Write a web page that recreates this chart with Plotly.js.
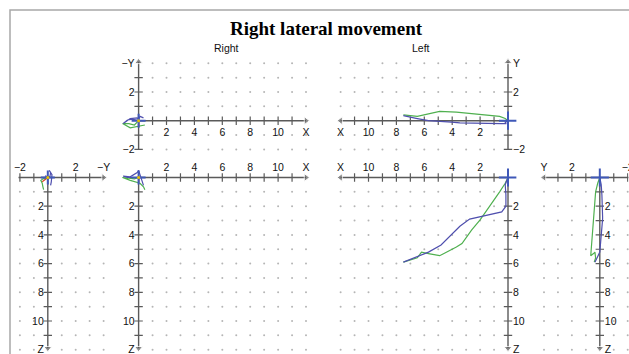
<!DOCTYPE html>
<html><head><meta charset="utf-8">
<script src="https://cdn.plot.ly/plotly-3.0.1.min.js"></script>
<style>html,body{margin:0;padding:0;background:#fff;}#chart{width:629px;height:354px;}</style>
</head><body><div id="chart"></div>
<script>
// ---- Right side movement (small): X, -Y, Z ----
const rGreenX  = [0, -0.3, -0.7, -1.15, -0.6, -0.25, 0.1, 0.35, 0.45];
const rGreenNY = [0, -0.3, -0.2, -0.2, -0.5, -0.45, -0.4, -0.35, -0.3];
const rGreenZ  = [0, 0.1, 0.05, 0.0, 0.2, 0.3, 0.4, 0.65, 0.85];
const rBlueX   = [0, -0.4, -0.8, -1.1, -0.6, -0.1, 0.0, 0.1, 0.25, 0.35];
const rBlueNY  = [0, 0.1, 0.05, -0.2, 0.15, 0.2, 0.1, 0.3, 0.25, 0.2];
const rBlueZ   = [0, 0.0, 0.0, -0.1, -0.05, -0.35, -0.5, -0.2, 0.3, 0.55];
const rRedX  = [0, 0.02];
const rRedNY = [0, -0.4];
const rRedZ  = [0, 0.3];

// ---- Left side movement: X, Y, Z ----
const lGreenX = [0, 0.2, 0.6, 1.1, 1.55, 2.0, 2.6, 3.3, 3.7, 4.9, 5.7, 6.2, 6.5, 7.5];
const lGreenY = [0, 0.15, 0.3, 0.35, 0.4, 0.45, 0.5, 0.55, 0.6, 0.65, 0.45, 0.35, 0.3, 0.4];
const lGreenZ = [0, 0.4, 1.0, 1.7, 2.4, 2.95, 3.65, 4.6, 4.85, 5.45, 5.3, 5.2, 5.6, 5.9];
const lBlueX = [0, 0.2, 0.15, 0.15, 0.45, 1.8, 2.75, 3.45, 4.05, 4.8, 5.7, 6.5, 7.5];
const lBlueY = [0, -0.1, -0.15, -0.2, -0.2, -0.2, -0.2, -0.15, -0.1, -0.05, 0.0, 0.15, 0.35];
const lBlueZ = [0, 0.5, 1.2, 2.0, 2.4, 2.7, 2.9, 3.4, 4.0, 4.7, 5.2, 5.5, 5.9];

// ---- Tick labels ----
const xTickVals = [2, 4, 6, 8, 10, 12];
const xTickText = ['2', '4', '6', '8', '10', 'X'];
const zTickVals = [2, 4, 6, 8, 10, 12];
const zTickText = ['2', '4', '6', '8', '10', 'Z'];
const nyTickVals = [-2, 2, 4];
const nyTickText = ['\u22122', '2', '\u2212Y'];
const yTickVals = [-2, 2, 4];
const yTickText = ['\u22122', '2', 'Y'];

const W = 629, H = 354, SX = 13.95, SY = 14.35;
const G = '#4fb04f', B = '#4f4fae', R = '#d94020', AX = '#5a5a5a', DOT = '#b5b5b5', CROSS = '#3f58b8';
const TF = {family: 'Liberation Sans, Arial, sans-serif', size: 10.5, color: '#111'};

const panels = [
  {ox:138.6, oy:120.7, hd:1, vd:1, hr:[-1.7,12.6], vr:[-2.6,4.6],
   hv:xTickVals, ht:xTickText, hs:'bottom', vv:nyTickVals, vt:nyTickText, vs:'left',
   ha:[0,12], va:[-2,4.1], hdots:[1,12], vdots:[-2,4], right:true,
   series:[[rGreenX,rGreenNY,G],[rBlueX,rBlueNY,B],[rRedX,rRedNY,R]]},
  {ox:508, oy:120.7, hd:-1, vd:1, hr:[-0.6,12.6], vr:[-2.6,4.6],
   hv:xTickVals, ht:xTickText, hs:'bottom', vv:yTickVals, vt:yTickText, vs:'right',
   ha:[0,12], va:[-2,4.1], hdots:[1,12], vdots:[-2,4], right:false,
   series:[[lGreenX,lGreenY,G],[lBlueX,lBlueY,B]]},
  {ox:47.8, oy:177.5, hd:1, vd:-1, hr:[-2.5,4.5], vr:[-0.9,12.25],
   hv:nyTickVals, ht:nyTickText, hs:'top', vv:zTickVals, vt:zTickText, vs:'left',
   ha:[-2.1,4], va:[0,11.9], hdots:[-2,4], vdots:[1,12], right:true,
   series:[[rGreenNY,rGreenZ,G],[rBlueNY,rBlueZ,B],[rRedNY,rRedZ,R]]},
  {ox:138.6, oy:177.5, hd:1, vd:-1, hr:[-1.7,12.6], vr:[-0.9,12.25],
   hv:xTickVals, ht:xTickText, hs:'top', vv:zTickVals, vt:zTickText, vs:'left',
   ha:[0,12], va:[0,11.9], hdots:[1,12], vdots:[1,12], right:true,
   series:[[rGreenX,rGreenZ,G],[rBlueX,rBlueZ,B],[rRedX,rRedZ,R]]},
  {ox:508, oy:177.5, hd:-1, vd:-1, hr:[-0.6,12.6], vr:[-0.9,12.25],
   hv:xTickVals, ht:xTickText, hs:'top', vv:zTickVals, vt:zTickText, vs:'right',
   ha:[0,12], va:[0,11.9], hdots:[1,12], vdots:[1,12], right:false,
   series:[[lGreenX,lGreenZ,G],[lBlueX,lBlueZ,B]]},
  {ox:599.8, oy:177.5, hd:-1, vd:-1, hr:[-2.05,4.5], vr:[-0.9,12.25],
   hv:yTickVals, ht:yTickText, hs:'top', vv:zTickVals, vt:zTickText, vs:'right',
   ha:[-2.2,4], va:[0,11.9], hdots:[-2,4], vdots:[1,12], right:false,
   series:[[lGreenY,lGreenZ,G],[lBlueY,lBlueZ,B]]}
];

const clamp = v => Math.max(0, Math.min(1, v));
const traces = [];
const layout = {
  width: W, height: H, margin: {l:0, r:0, t:0, b:0, pad:0},
  paper_bgcolor: '#fff', plot_bgcolor: 'rgba(0,0,0,0)', showlegend: false,
  title: {text: '<b>Right lateral movement</b>', font: {family: 'Liberation Serif, Times New Roman, serif', size: 19, color: '#000'},
          x: 326/W, xref: 'paper', xanchor: 'center', y: 1 - 28/H, yref: 'paper', yanchor: 'middle'},
  annotations: [
    {text: 'Right', xref: 'paper', yref: 'paper', x: 226/W, y: 1 - 48/H, showarrow: false, font: TF, xanchor: 'center', yanchor: 'middle'},
    {text: 'Left', xref: 'paper', yref: 'paper', x: 421/W, y: 1 - 48/H, showarrow: false, font: TF, xanchor: 'center', yanchor: 'middle'}
  ],
  shapes: [
    {type: 'rect', xref: 'paper', yref: 'paper', x0: 10/W, x1: 1.05, y0: -0.05, y1: 1 - 10/H,
     line: {color: '#a8a8a8', width: 1.5}, fillcolor: 'rgba(0,0,0,0)', layer: 'below'}
  ]
};

panels.forEach((p, i) => {
  const n = i === 0 ? '' : String(i + 1);
  const xa = 'x' + n, ya = 'y' + n;
  let hDom, hRange, vDom, vRange;
  if (p.hd === 1) { hDom = [(p.ox + p.hr[0]*SX)/W, (p.ox + p.hr[1]*SX)/W]; hRange = [p.hr[0], p.hr[1]]; }
  else { hDom = [(p.ox - p.hr[1]*SX)/W, (p.ox - p.hr[0]*SX)/W]; hRange = [p.hr[1], p.hr[0]]; }
  if (p.vd === 1) { vDom = [1 - (p.oy - p.vr[0]*SY)/H, 1 - (p.oy - p.vr[1]*SY)/H]; vRange = [p.vr[0], p.vr[1]]; }
  else { vDom = [1 - (p.oy + p.vr[1]*SY)/H, 1 - (p.oy + p.vr[0]*SY)/H]; vRange = [p.vr[1], p.vr[0]]; }
  const common = {showgrid: false, zeroline: false, showline: false, ticks: '', fixedrange: true, tickfont: TF,
    tickangle: 0, tickmode: 'array', ticklabeloverflow: 'allow', ticklabelstandoff: 4};
  layout['xaxis' + n] = Object.assign({}, common, {domain: hDom.map(clamp), range: hRange, anchor: 'free',
    position: clamp(1 - p.oy/H), side: p.hs, tickvals: p.hv, ticktext: p.ht});
  layout['yaxis' + n] = Object.assign({}, common, {domain: vDom.map(clamp), range: vRange, anchor: 'free',
    position: clamp(p.ox/W), side: p.vs, tickvals: p.vv, ticktext: p.vt});

  // grid dots
  const gx = [], gy = [];
  for (let a = p.hdots[0]; a <= p.hdots[1]; a++)
    for (let b = p.vdots[0]; b <= p.vdots[1]; b++)
      if (a !== 0 && b !== 0) { gx.push(a); gy.push(b); }
  traces.push({x: gx, y: gy, xaxis: xa, yaxis: ya, mode: 'markers', hoverinfo: 'skip', cliponaxis: false,
    marker: {symbol: 'circle', size: 2, color: DOT}});

  // axis lines with arrow heads
  traces.push({x: [p.ha[0], p.ha[1]], y: [0, 0], xaxis: xa, yaxis: ya, mode: 'lines+markers', hoverinfo: 'skip',
    line: {color: AX, width: 1.4},
    marker: {size: [0, 7], color: AX, symbol: p.hd === 1 ? 'triangle-right' : 'triangle-left'}});
  traces.push({x: [0, 0], y: [p.va[0], p.va[1]], xaxis: xa, yaxis: ya, mode: 'lines+markers', hoverinfo: 'skip',
    line: {color: AX, width: 1.4},
    marker: {size: [0, 7], color: AX, symbol: p.vd === 1 ? 'triangle-up' : 'triangle-down'}});

  // tick marks crossing the axes
  const tx = [];
  for (let a = Math.ceil(p.ha[0]); a <= Math.floor(p.ha[1] - 0.5); a++) if (a !== 0) tx.push(a);
  traces.push({x: tx, y: tx.map(() => 0), xaxis: xa, yaxis: ya, mode: 'markers', hoverinfo: 'skip',
    marker: {symbol: 'line-ns', size: 6, line: {color: AX, width: 1.2}}});
  const ty = [];
  for (let b = Math.ceil(p.va[0]); b <= Math.floor(p.va[1] - 0.5); b++) if (b !== 0) ty.push(b);
  traces.push({x: ty.map(() => 0), y: ty, xaxis: xa, yaxis: ya, mode: 'markers', hoverinfo: 'skip',
    marker: {symbol: 'line-ew', size: 6, line: {color: AX, width: 1.2}}});

  // data
  p.series.forEach(s => {
    traces.push({x: s[0], y: s[1], xaxis: xa, yaxis: ya, mode: 'lines', hoverinfo: 'skip',
      line: {color: s[2], width: 1.2}});
  });

  // origin cross
  traces.push({x: [0], y: [0], xaxis: xa, yaxis: ya, mode: 'markers', hoverinfo: 'skip',
    marker: {symbol: 'cross-thin', size: p.right ? 10 : 13, line: {color: CROSS, width: 2}}});
  if (p.right) {
    traces.push({x: [0], y: [0], xaxis: xa, yaxis: ya, mode: 'markers', hoverinfo: 'skip',
      marker: {symbol: 'circle', size: 3, color: '#e6c200'}});
  }
});

Plotly.newPlot('chart', traces, layout, {staticPlot: true, displayModeBar: false});
</script>
</body></html>
